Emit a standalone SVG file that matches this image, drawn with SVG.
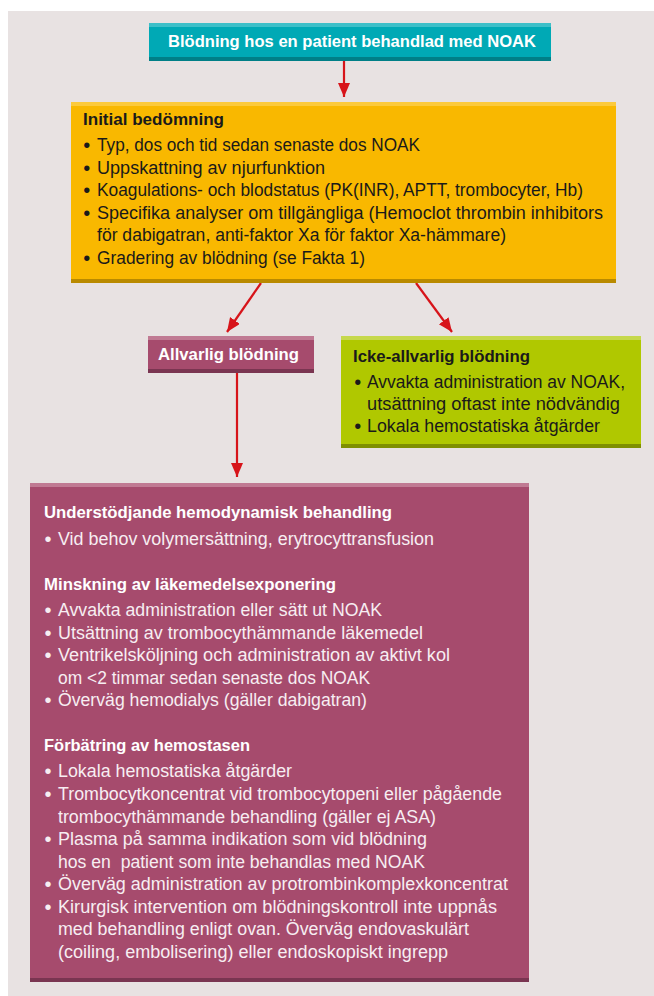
<svg xmlns="http://www.w3.org/2000/svg" width="654" height="996" viewBox="0 0 654 996">
<style>
text{font-family:"Liberation Sans",Arial,sans-serif;}
.h{font-weight:bold;font-size:17px;}
.b{font-size:17.5px;}
.bl{font-size:20px;}
.w{fill:#ffffff;}
.wb{fill:#f7eef2;}
.k{fill:#1a1a1a;}
.con{stroke:#d7141a;stroke-width:2.2;fill:none;}
</style>
<defs>
<marker id="ah" markerUnits="userSpaceOnUse" markerWidth="16" markerHeight="14" refX="14" refY="6" orient="auto">
<path d="M0,0 L14,6 L0,12 Z" fill="#d7141a"/>
</marker>
</defs>
<rect x="8" y="11" width="646" height="985" fill="#e8e2e2"/>

<g id="connectors">
<line class="con" x1="344" y1="61" x2="344" y2="97" marker-end="url(#ah)"/>
<line class="con" x1="261" y1="283" x2="227" y2="332" marker-end="url(#ah)"/>
<line class="con" x1="416" y1="283" x2="452" y2="332" marker-end="url(#ah)"/>
<line class="con" x1="237" y1="373" x2="237" y2="477" marker-end="url(#ah)"/>
</g>

<g id="node-title">
<rect x="149" y="23" width="402" height="38" fill="#00a9b5"/>
<rect x="149" y="23" width="402" height="4" fill="#3dbfc8"/>
<rect x="149" y="57" width="402" height="4" fill="#007f87"/>
<text class="h w" x="168" y="47" textLength="368" lengthAdjust="spacingAndGlyphs">Blödning hos en patient behandlad med NOAK</text>
</g>

<g id="node-initial">
<rect x="71" y="102" width="545" height="181" fill="#f9b800"/>
<rect x="71" y="102" width="545" height="4" fill="#fcca3c"/>
<rect x="71" y="279" width="545" height="4" fill="#b98a00"/>
<text class="h k" x="83" y="125" textLength="141" lengthAdjust="spacingAndGlyphs">Initial bedömning</text>
<g class="bl k">
<text x="83.2" y="152">•</text>
<text x="83.2" y="174.5">•</text>
<text x="83.2" y="197">•</text>
<text x="83.2" y="219.5">•</text>
<text x="83.2" y="264.5">•</text>
</g>
<g class="b k">
<text x="97" y="151" textLength="323" lengthAdjust="spacingAndGlyphs">Typ, dos och tid sedan senaste dos NOAK</text>
<text x="97" y="173.5" textLength="228" lengthAdjust="spacingAndGlyphs">Uppskattning av njurfunktion</text>
<text x="97" y="196" textLength="486" lengthAdjust="spacingAndGlyphs">Koagulations- och blodstatus (PK(INR), APTT, trombocyter, Hb)</text>
<text x="97" y="218.5" textLength="506" lengthAdjust="spacingAndGlyphs">Specifika analyser om tillgängliga (Hemoclot thrombin inhibitors</text>
<text x="97" y="241" textLength="409" lengthAdjust="spacingAndGlyphs">för dabigatran, anti-faktor Xa för faktor Xa-hämmare)</text>
<text x="97" y="263.5" textLength="268" lengthAdjust="spacingAndGlyphs">Gradering av blödning (se Fakta 1)</text>
</g>
</g>

<g id="node-allvarlig">
<rect x="148" y="336" width="166" height="37" fill="#a64b6d"/>
<rect x="148" y="336" width="166" height="4" fill="#c07a93"/>
<rect x="148" y="369" width="166" height="4" fill="#7a3551"/>
<text class="h w" x="158" y="360" textLength="141" lengthAdjust="spacingAndGlyphs">Allvarlig blödning</text>
</g>

<g id="node-icke">
<rect x="341" y="336" width="300" height="112" fill="#b0c800"/>
<rect x="341" y="336" width="300" height="4" fill="#c6d84c"/>
<rect x="341" y="444" width="300" height="4" fill="#7f8f00"/>
<text class="h k" x="353" y="362" textLength="177" lengthAdjust="spacingAndGlyphs">Icke-allvarlig blödning</text>
<g class="bl k">
<text x="354.2" y="389">•</text>
<text x="354.2" y="433">•</text>
</g>
<g class="b k">
<text x="367" y="388" textLength="258" lengthAdjust="spacingAndGlyphs">Avvakta administration av NOAK,</text>
<text x="367" y="410" textLength="253" lengthAdjust="spacingAndGlyphs">utsättning oftast inte nödvändig</text>
<text x="367" y="432" textLength="233" lengthAdjust="spacingAndGlyphs">Lokala hemostatiska åtgärder</text>
</g>
</g>

<g id="node-behandling">
<rect x="30" y="483" width="499" height="499" fill="#a64b6d"/>
<rect x="30" y="483" width="499" height="4" fill="#c07a93"/>
<rect x="30" y="978" width="499" height="4" fill="#7a3551"/>
<text class="h w" x="44" y="518" textLength="348" lengthAdjust="spacingAndGlyphs">Understödjande hemodynamisk behandling</text>
<text class="h w" x="44" y="590" textLength="292" lengthAdjust="spacingAndGlyphs">Minskning av läkemedelsexponering</text>
<text class="h w" x="44" y="751" textLength="206" lengthAdjust="spacingAndGlyphs">Förbätring av hemostasen</text>
<g class="bl wb">
<text x="44.5" y="546">•</text>
<text x="44.5" y="617">•</text>
<text x="44.5" y="639.5">•</text>
<text x="44.5" y="662">•</text>
<text x="44.5" y="707">•</text>
<text x="44.5" y="778">•</text>
<text x="44.5" y="801">•</text>
<text x="44.5" y="846">•</text>
<text x="44.5" y="891">•</text>
<text x="44.5" y="913.5">•</text>
</g>
<g class="b wb">
<text x="58" y="545" textLength="376" lengthAdjust="spacingAndGlyphs">Vid behov volymersättning, erytrocyttransfusion</text>
<text x="58" y="616" textLength="324" lengthAdjust="spacingAndGlyphs">Avvakta administration eller sätt ut NOAK</text>
<text x="58" y="638.5" textLength="365" lengthAdjust="spacingAndGlyphs">Utsättning av trombocythämmande läkemedel</text>
<text x="58" y="661" textLength="392" lengthAdjust="spacingAndGlyphs">Ventrikelsköljning och administration av aktivt kol</text>
<text x="58" y="683.5" textLength="312" lengthAdjust="spacingAndGlyphs">om &lt;2 timmar sedan senaste dos NOAK</text>
<text x="58" y="706" textLength="309" lengthAdjust="spacingAndGlyphs">Överväg hemodialys (gäller dabigatran)</text>
<text x="58" y="777" textLength="234" lengthAdjust="spacingAndGlyphs">Lokala hemostatiska åtgärder</text>
<text x="58" y="800" textLength="444" lengthAdjust="spacingAndGlyphs">Trombocytkoncentrat vid trombocytopeni eller pågående</text>
<text x="58" y="822.5" textLength="378" lengthAdjust="spacingAndGlyphs">trombocythämmande behandling (gäller ej ASA)</text>
<text x="58" y="845" textLength="369" lengthAdjust="spacingAndGlyphs">Plasma på samma indikation som vid blödning</text>
<text x="58" y="867.5" textLength="367" lengthAdjust="spacingAndGlyphs" xml:space="preserve">hos en  patient som inte behandlas med NOAK</text>
<text x="58" y="890" textLength="450" lengthAdjust="spacingAndGlyphs">Överväg administration av protrombinkomplexkoncentrat</text>
<text x="58" y="912.5" textLength="439" lengthAdjust="spacingAndGlyphs">Kirurgisk intervention om blödningskontroll inte uppnås</text>
<text x="58" y="935" textLength="411" lengthAdjust="spacingAndGlyphs">med behandling enligt ovan. Överväg endovaskulärt</text>
<text x="58" y="957.5" textLength="390" lengthAdjust="spacingAndGlyphs">(coiling, embolisering) eller endoskopiskt ingrepp</text>
</g>
</g>
</svg>
